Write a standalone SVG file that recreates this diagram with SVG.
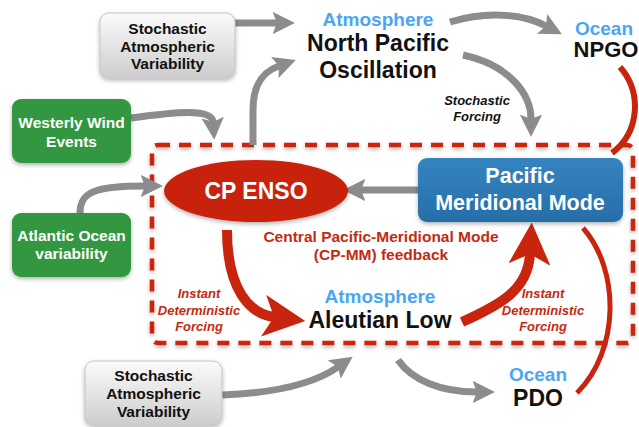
<svg xmlns="http://www.w3.org/2000/svg" width="639" height="427" viewBox="0 0 639 427">
<defs>
<style>
text{font-family:"Liberation Sans",Arial,sans-serif;font-weight:bold;text-anchor:middle}
.box{font-size:15.5px}
.wt{fill:#ffffff}
.bk{fill:#111111}
.blue{fill:#4aa6f2;font-size:19px}
.big{font-size:23px}
.it{font-style:italic;font-size:13px}
.red{fill:#c42a12}
.gray{fill:none;stroke:#8c8c8e;stroke-width:7}
.redl{fill:none;stroke:#c9250e}
</style>
<linearGradient id="gg" x1="0" y1="0" x2="0" y2="1">
<stop offset="0" stop-color="#fbfbfb"/>
<stop offset="1" stop-color="#cdcdcd"/>
</linearGradient>
<linearGradient id="bg" x1="0" y1="0" x2="0" y2="1">
<stop offset="0" stop-color="#3584bf"/>
<stop offset="1" stop-color="#276ea8"/>
</linearGradient>
<filter id="sh" x="-10%" y="-10%" width="130%" height="140%">
<feDropShadow dx="0" dy="2" stdDeviation="2" flood-color="#000" flood-opacity="0.3"/>
</filter>
<marker id="ga" viewBox="0 0 10 10" refX="2" refY="5" markerWidth="3.2" markerHeight="3.2" orient="auto" markerUnits="strokeWidth">
<path d="M0,0 L10,5 L0,10 L2,5 z" fill="#8c8c8e"/>
</marker>
<marker id="ra" viewBox="0 0 10 10" refX="2.5" refY="5" markerWidth="4.2" markerHeight="4.2" orient="auto" markerUnits="strokeWidth">
<path d="M0,0 L10,5 L0,10 L2.5,5 z" fill="#c9250e"/>
</marker>
</defs>
<rect width="639" height="427" fill="#ffffff"/>

<g id="feedback-loop">
<rect x="152" y="145" width="481" height="198" rx="6" fill="none" stroke="#c9250e" stroke-width="4.5" stroke-dasharray="12 9" filter="url(#sh)"/>
</g>

<g id="connectors">
<path class="gray" d="M235,23 L277,23" marker-end="url(#ga)"/>
<path class="gray" d="M253,145 L253,110 C253,85 262,72 279,66" marker-end="url(#ga)"/>
<path class="gray" d="M131,118 C175,112 212,108 213,122" marker-end="url(#ga)"/>
<path class="gray" d="M80,213 C80,192 95,186 145,186" marker-end="url(#ga)"/>
<path class="gray" d="M420,190 L361,190" marker-end="url(#ga)"/>
<path class="gray" d="M450,22 C490,10 525,15 546,26" marker-end="url(#ga)"/>
<path class="gray" d="M463,55 C510,65 531,95 531,119" marker-end="url(#ga)"/>
<path class="gray" d="M222,395 C275,393 315,383 338,367" marker-end="url(#ga)"/>
<path class="gray" d="M398,360 C412,380 440,392 477,392" marker-end="url(#ga)"/>
<path class="redl" stroke-width="10" d="M227,230 C227,290 250,314 274,317" marker-end="url(#ra)"/>
<path class="redl" stroke-width="10" d="M462,322 C500,305 528,290 530,254" marker-end="url(#ra)"/>
<path class="redl" stroke-width="6" d="M620,67 C642,92 640,132 612,153"/>
<path class="redl" stroke-width="5" d="M583,228 C620,270 620,350 577,393"/>
</g>

<g id="stochastic-top">
<rect x="100" y="13" width="135" height="65" rx="9" fill="url(#gg)" stroke="#c4c4c4" stroke-width="1" filter="url(#sh)"/>
<text class="box bk" x="167.5" y="34">Stochastic</text>
<text class="box bk" x="167.5" y="51.5">Atmospheric</text>
<text class="box bk" x="167.5" y="69">Variability</text>
</g>

<g id="westerly">
<rect x="12" y="99" width="119" height="64" rx="9" fill="#30973f" filter="url(#sh)"/>
<text class="box wt" x="71.5" y="128">Westerly Wind</text>
<text class="box wt" x="71.5" y="147">Events</text>
</g>

<g id="atlantic">
<rect x="12" y="213" width="119" height="64" rx="9" fill="#30973f" filter="url(#sh)"/>
<text class="box wt" x="71.5" y="241">Atlantic Ocean</text>
<text class="box wt" x="71.5" y="259">variability</text>
</g>

<g id="stochastic-bottom">
<rect x="85" y="361" width="137" height="64" rx="9" fill="url(#gg)" stroke="#c4c4c4" stroke-width="1" filter="url(#sh)"/>
<text class="box bk" x="153.5" y="381">Stochastic</text>
<text class="box bk" x="153.5" y="399">Atmospheric</text>
<text class="box bk" x="153.5" y="417">Variability</text>
</g>

<g id="npo">
<text class="blue" x="378" y="26">Atmosphere</text>
<text class="big bk" x="378" y="51">North Pacific</text>
<text class="big bk" x="378" y="78">Oscillation</text>
</g>

<g id="npgo">
<text class="blue" x="604" y="35">Ocean</text>
<text class="bk" x="606" y="57" style="font-size:22px">NPGO</text>
</g>

<g id="cp-enso">
<ellipse cx="256" cy="191" rx="92" ry="31" fill="#c8230f" filter="url(#sh)"/>
<text class="big wt" x="256" y="199">CP ENSO</text>
</g>

<g id="pmm">
<rect x="418" y="158" width="205" height="64" rx="9" fill="url(#bg)" filter="url(#sh)"/>
<text class="wt" x="520" y="183" style="font-size:21.5px">Pacific</text>
<text class="wt" x="520" y="210" style="font-size:21.5px">Meridional Mode</text>
</g>

<g id="aleutian">
<text class="blue" x="380" y="303">Atmosphere</text>
<text class="big bk" x="380" y="328">Aleutian Low</text>
</g>

<g id="pdo">
<text class="blue" x="538" y="381">Ocean</text>
<text class="big bk" x="538" y="406">PDO</text>
</g>

<g id="labels">
<text class="it bk" x="477" y="105">Stochastic</text>
<text class="it bk" x="477" y="121">Forcing</text>
<text class="red" x="381" y="242" style="font-size:15.5px">Central Pacific-Meridional Mode</text>
<text class="red" x="381" y="260" style="font-size:15.5px">(CP-MM) feedback</text>
<text class="it red" x="199" y="298">Instant</text>
<text class="it red" x="199" y="315">Deterministic</text>
<text class="it red" x="199" y="331">Forcing</text>
<text class="it red" x="543" y="298">Instant</text>
<text class="it red" x="543" y="315">Deterministic</text>
<text class="it red" x="543" y="331">Forcing</text>
</g>
</svg>
